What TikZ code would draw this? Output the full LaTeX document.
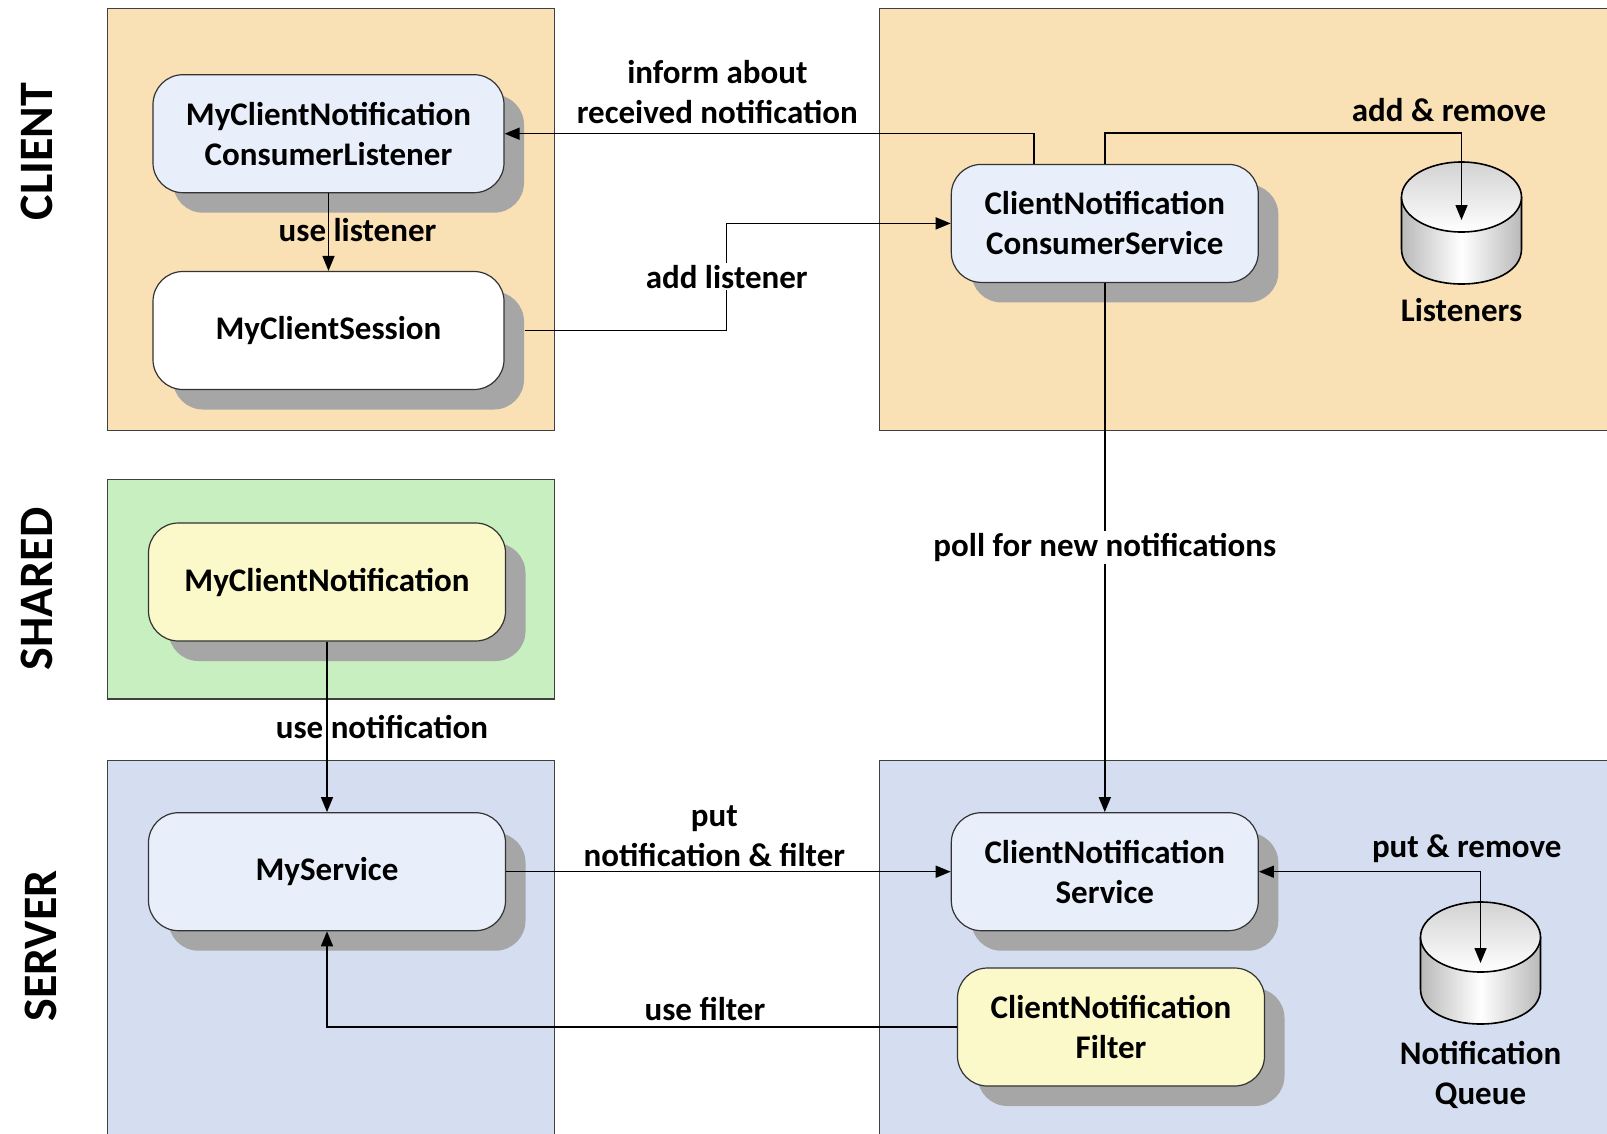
\documentclass[tikz,border=0pt]{standalone}
\usepackage{fontspec}
\setmainfont{Carlito}
\usetikzlibrary{arrows.meta,shadows}
\definecolor{clientbg}{RGB}{249,225,181}
\definecolor{sharedbg}{RGB}{199,239,191}
\definecolor{serverbg}{RGB}{213,221,240}
\definecolor{boxblue}{RGB}{232,238,250}
\definecolor{boxyellow}{RGB}{251,248,201}
\definecolor{shadowgray}{RGB}{166,166,166}
\tikzset{
  dbcyl/.pic={
    \shade[left color=gray!55,right color=gray!55,middle color=white] (-60,0) -- (-60,52) .. controls (-60,98.7) and (60,98.7) .. (60,52) -- (60,0) -- cycle;
    \draw[line width=1.6pt] (-60,0) -- (-60,52) .. controls (-60,98.7) and (60,98.7) .. (60,52) -- (60,0);
    \shade[top color=gray!35,bottom color=white] (0,0) ellipse [x radius=60,y radius=35];
    \draw[line width=1.6pt] (0,0) ellipse [x radius=60,y radius=35];
  }
}
\begin{document}
\begin{tikzpicture}[x=1pt,y=-1pt,
  panel/.style={draw=black!75,line width=1.2pt},
  box/.style={draw=black!80,line width=1.2pt,rounded corners=30pt,minimum width=351pt,minimum height=118pt,
    align=center,inner sep=0pt,font=\fontsize{33}{40}\selectfont\bfseries,
    drop shadow={shadow xshift=20pt,shadow yshift=-20pt,fill=shadowgray,opacity=1}},
  lbl/.style={font=\fontsize{33}{40}\selectfont\bfseries,align=center,inner sep=2pt},
  lane/.style={font=\fontsize{48}{58}\selectfont\bfseries,rotate=90},
  conn/.style={line width=1.5pt,-{Triangle[length=15pt,width=12pt]}},
  biconn/.style={line width=1.5pt,{Triangle[length=15pt,width=12pt]}-{Triangle[length=15pt,width=12pt]}}]
\useasboundingbox (0,0) rectangle (1607,1133);
\fill[white] (0,0) rectangle (1607,1133);
\draw[panel,fill=clientbg] (107.6,8.2) rectangle (554.5,430.5);
\draw[panel,fill=clientbg] (879.4,8.2) rectangle (1630,430.5);
\draw[panel,fill=sharedbg] (107.6,479.6) rectangle (554.5,699);
\draw[panel,fill=serverbg] (107.6,760.5) rectangle (554.5,1150);
\draw[panel,fill=serverbg] (879.4,760.5) rectangle (1630,1150);
\node[lane] (client) at (37,151.7) {CLIENT};
\node[lane] (shared) at (37,589) {SHARED};
\node[lane] (server) at (41,946) {SERVER};
\node[box,fill=boxblue] (conslistener) at (328.5,133.7) {MyClientNotification\\ConsumerListener};
\node[box,fill=white] (session) at (328.5,330.5) {MyClientSession};
\node[box,fill=boxblue,minimum width=307pt] (consservice) at (1104.8,223.4) {ClientNotification\\ConsumerService};
\node[box,fill=boxyellow,minimum width=357pt] (mynotif) at (327,582) {MyClientNotification};
\node[box,fill=boxblue,minimum width=357pt] (myservice) at (327,871.7) {MyService};
\node[box,fill=boxblue,minimum width=307pt] (notifservice) at (1104.8,871.7) {ClientNotification\\Service};
\node[box,fill=boxyellow,minimum width=307pt] (notiffilter) at (1111,1027) {ClientNotification\\Filter};
\pic at (1461.5,197) {dbcyl};
\pic at (1480.5,937) {dbcyl};
\coordinate (lstin) at (1461.5,220);
\coordinate (queuein) at (1480.5,963);
\coordinate (addmid) at (726.7,276.7);
\node[lbl] (lstlabel) at (1461.5,310.5) {Listeners};
\node[lbl] (queuelabel) at (1480.5,1074.6) {Notification\\Queue};
\draw[conn] ([xshift=-70.8pt]consservice.north) |- (conslistener.east);
\draw[conn] (consservice.north) -- ++(0,-31) -| (lstin);
\draw[conn] (conslistener.south) -- (session.north) node[lbl,midway,xshift=29pt,yshift=2pt] (uselst) {use listener};
\draw[conn] ([xshift=20pt]session.east) -| (addmid) |- (consservice.west);
\node[lbl,fill=white] (addlst) at (addmid) {add listener};
\draw[conn] (consservice.south) -- (notifservice.north) node[lbl,midway,fill=white] (poll) {poll for new notifications};
\draw[conn] (mynotif.south) -- (myservice.north) node[lbl,midway,xshift=55pt] (usenotif) {use notification};
\draw[conn] (myservice.east) -- (notifservice.west) node[lbl,midway,above,xshift=-14pt,yshift=2pt] (putnotif) {put\\notification \& filter};
\draw[conn] (notiffilter.west) -| (myservice.south) node[lbl,pos=0.2,above,yshift=4pt] (usefilter) {use filter};
\draw[biconn] (notifservice.east) -| (queuein);
\node[lbl] (putrem) at (1466.7,848.6) {put \& remove};
\node[lbl] (inform) at (717.4,91.7) {inform about\\received notification};
\node[lbl] (addrem) at (1449,109.7) {add \& remove};
\end{tikzpicture}
\end{document}
